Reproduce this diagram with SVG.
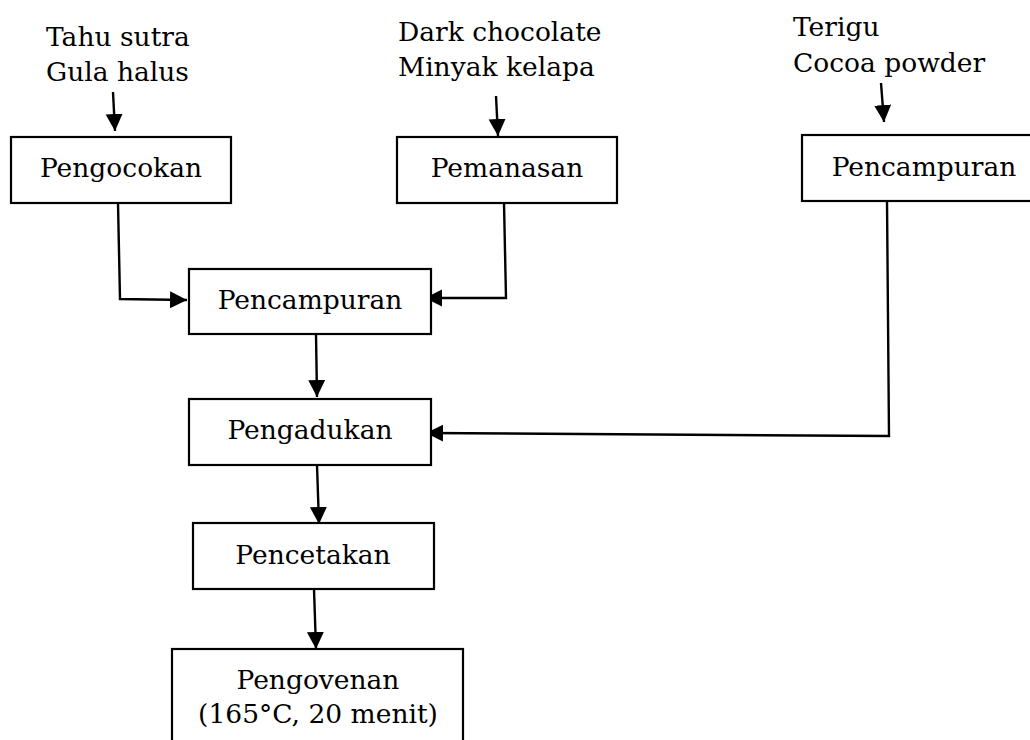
<svg xmlns="http://www.w3.org/2000/svg" width="1030" height="740" viewBox="0 0 1030 740">
  <defs>
    <style>
      text { font-family: "DejaVu Serif", "Liberation Serif", serif; font-size: 26.5px; fill: #000; }
      .c { text-anchor: middle; }
      .box { fill: #fff; stroke: #000; stroke-width: 2.2; }
      .conn { fill: none; stroke: #000; stroke-width: 2.4; }
    </style>
    <marker id="ah" markerUnits="userSpaceOnUse" markerWidth="20" markerHeight="20" refX="17" refY="8.5" orient="auto">
      <path d="M0,0 L17,8.5 L0,17 z" fill="#000"/>
    </marker>
  </defs>
  <rect width="1030" height="740" fill="#fff"/>

  <g id="inputs">
    <text x="46" y="46">Tahu sutra</text>
    <text x="46" y="81">Gula halus</text>
    <text x="398" y="41">Dark chocolate</text>
    <text x="398" y="76">Minyak kelapa</text>
    <text x="793" y="36">Terigu</text>
    <text x="793" y="72">Cocoa powder</text>
  </g>

  <g id="connectors">
    <path class="conn" d="M113,92 L115,131" marker-end="url(#ah)"/>
    <path class="conn" d="M496,96 L498,136" marker-end="url(#ah)"/>
    <path class="conn" d="M881,83 L884,122" marker-end="url(#ah)"/>
    <path class="conn" d="M118,203 L120,299 L187,300" marker-end="url(#ah)"/>
    <path class="conn" d="M504,203 L506,298 L425,298" marker-end="url(#ah)"/>
    <path class="conn" d="M887,201 L889,436 L426,433" marker-end="url(#ah)"/>
    <path class="conn" d="M316,334 L317,397" marker-end="url(#ah)"/>
    <path class="conn" d="M317,465 L319,524" marker-end="url(#ah)"/>
    <path class="conn" d="M314,589 L316,649" marker-end="url(#ah)"/>
  </g>

  <g id="pengocokan">
    <rect class="box" x="11" y="137" width="220" height="66"/>
    <text class="c" x="121" y="177">Pengocokan</text>
  </g>
  <g id="pemanasan">
    <rect class="box" x="397" y="137" width="220" height="66"/>
    <text class="c" x="507" y="177">Pemanasan</text>
  </g>
  <g id="pencampuran-kering">
    <rect class="box" x="802" y="135" width="240" height="66"/>
    <text class="c" x="924" y="176">Pencampuran</text>
  </g>
  <g id="pencampuran">
    <rect class="box" x="189" y="269" width="242" height="65"/>
    <text class="c" x="310" y="309">Pencampuran</text>
  </g>
  <g id="pengadukan">
    <rect class="box" x="189" y="399" width="242" height="66"/>
    <text class="c" x="310" y="439">Pengadukan</text>
  </g>
  <g id="pencetakan">
    <rect class="box" x="193" y="523" width="241" height="66"/>
    <text class="c" x="313" y="564">Pencetakan</text>
  </g>
  <g id="pengovenan">
    <rect class="box" x="172" y="649" width="291" height="110"/>
    <text class="c" x="318" y="689">Pengovenan</text>
    <text class="c" x="318" y="723">(165°C, 20 menit)</text>
  </g>
</svg>
